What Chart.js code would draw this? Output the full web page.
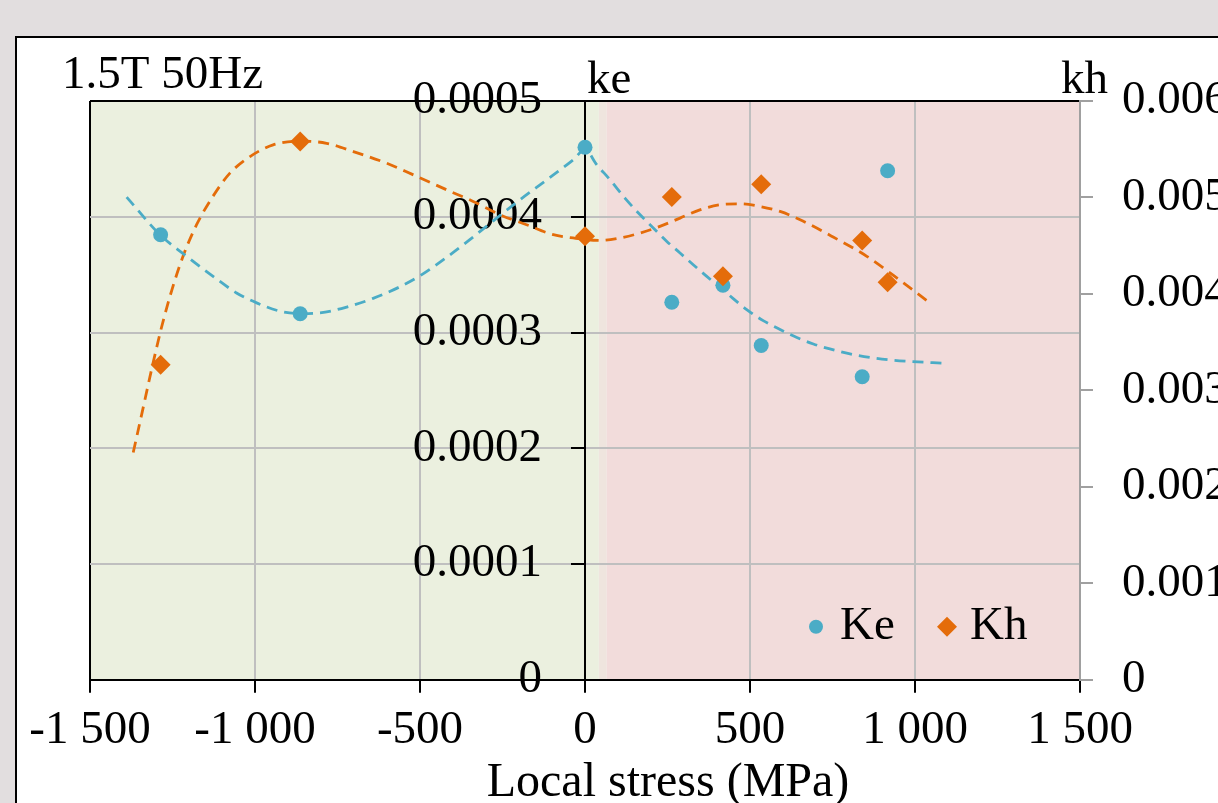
<!DOCTYPE html>
<html><head><meta charset="utf-8">
<script src="https://cdn.jsdelivr.net/npm/chart.js@4.4.0/dist/chart.umd.min.js"></script>
<style>
html,body{margin:0;padding:0;width:1218px;height:803px;overflow:hidden;background:#e2dedf;}
#panel{position:absolute;left:15px;top:36px;width:1400px;height:900px;border:2px solid #000;background:#fff;}
#c{position:absolute;left:0;top:0;}
</style></head>
<body><div id="panel"></div><canvas id="c" width="1246" height="812"></canvas>
<script>
// ---- data ----
const stressX  = [-1286, -863, 0, 263, 418, 534, 840, 917];
const keValues = [0.0003845, 0.0003162, 0.0004601, 0.0003261, 0.0003408, 0.0002888, 0.0002618, 0.0004397];
const khValues = [0.003266, 0.005580, 0.004597, 0.005004, 0.004183, 0.005138, 0.004555, 0.004121];

const keTrendX = [-1389, -1288, -1207, -1127, -1056, -995, -924, -864, -803, -722, -642, -561, -500, -419, -349, -278, -197, -116, -36, 0, 36, 76, 121, 167, 207, 248, 288, 328, 369, 429, 490, 540, 591, 642, 692, 742, 803, 864, 924, 985, 1085];
const keTrendY = [0.0004170, 0.0003845, 0.0003658, 0.0003485, 0.0003342, 0.0003256, 0.0003184, 0.0003164, 0.0003170, 0.0003220, 0.0003295, 0.0003395, 0.0003490, 0.0003650, 0.0003802, 0.0003965, 0.0004147, 0.0004319, 0.0004491, 0.0004580, 0.0004448, 0.0004319, 0.0004161, 0.0004017, 0.0003903, 0.0003787, 0.0003687, 0.0003586, 0.0003485, 0.0003342, 0.0003198, 0.0003103, 0.0003026, 0.0002957, 0.0002901, 0.0002858, 0.0002815, 0.0002784, 0.0002763, 0.0002750, 0.0002735];

const khTrendX = [-1369, -1343, -1313, -1283, -1252, -1217, -1177, -1126, -1076, -1015, -945, -864, -783, -702, -601, -520, -419, -339, -258, -177, -96, -36, 45, 106, 167, 227, 288, 348, 409, 470, 530, 591, 652, 752, 854, 965, 1036];
const khTrendY = [0.002356, 0.002757, 0.003222, 0.003657, 0.004040, 0.004400, 0.004718, 0.005019, 0.005252, 0.005424, 0.005545, 0.005583, 0.005562, 0.005476, 0.005355, 0.005234, 0.005079, 0.004959, 0.004821, 0.004717, 0.004614, 0.004580, 0.004555, 0.004580, 0.004631, 0.004700, 0.004786, 0.004872, 0.004924, 0.004934, 0.004907, 0.004855, 0.004769, 0.004590, 0.004390, 0.004114, 0.003931];

const xTickLabels  = ['-1 500', '-1 000', '-500', '0', '500', '1 000', '1 500'];
const keTickLabels = ['0', '0.0001', '0.0002', '0.0003', '0.0004', '0.0005'];
const khTickLabels = ['0', '0.001', '0.002', '0.003', '0.004', '0.005', '0.006'];
const seriesNames  = ['Ke', 'Kh'];
const chartTitle   = '1.5T 50Hz';
const xTitle       = 'Local stress (MPa)';
const keAxisTitle  = 'ke';
const khAxisTitle  = 'kh';
const regionBounds = [42, 66]; // end of compression zone, start of tension zone (MPa)

// ---- styles ----
const FONT = "'Liberation Serif', 'Times New Roman', serif";
const FS = 47;
const BLUE = '#4bacc6', ORANGE = '#e46c0a';
const GRID = '#bfbfbf', RAXIS = '#a0a0a0';

const backgroundPlugin = {
  id: 'zones',
  beforeDraw(chart) {
    const {ctx, chartArea: a, scales: {x}} = chart;
    const b0 = x.getPixelForValue(regionBounds[0]);
    const b1 = x.getPixelForValue(regionBounds[1]);
    ctx.save();
    ctx.fillStyle = '#ebf0df'; ctx.fillRect(a.left, a.top, b0 - a.left, a.bottom - a.top);
    ctx.fillStyle = '#efe5de'; ctx.fillRect(b0, a.top, b1 - b0, a.bottom - a.top);
    ctx.fillStyle = '#f2dcdb'; ctx.fillRect(b1, a.top, a.right - b1, a.bottom - a.top);
    ctx.restore();
  }
};

// ke axis sits at x = 0; its labels are set off to the left of its tick marks
const keLabelPlugin = {
  id: 'keLabels',
  beforeDatasetsDraw(chart) {
    const {ctx, scales: {x, y}} = chart;
    const px = x.getPixelForValue(0) - 13 - 30;
    ctx.save();
    ctx.font = FS + 'px ' + FONT;
    ctx.fillStyle = '#000';
    ctx.textAlign = 'right';
    ctx.textBaseline = 'middle';
    y.ticks.forEach((t, i) => ctx.fillText(keTickLabels[i], px, y.getPixelForValue(t.value)));
    ctx.restore();
  }
};

const textPlugin = {
  id: 'texts',
  afterDraw(chart) {
    const {ctx, chartArea: a, scales: {x, y1}} = chart;
    ctx.save();
    ctx.font = FS + 'px ' + FONT;
    ctx.fillStyle = '#000';
    ctx.textBaseline = 'alphabetic';
    ctx.textAlign = 'left';
    ctx.fillText(chartTitle, a.left - 28, a.top - 13);
    ctx.fillText(keAxisTitle, x.getPixelForValue(0) + 2, a.top - 8);
    ctx.textAlign = 'right';
    ctx.fillText(khAxisTitle, y1.left + 28, a.top - 8);
    // legend
    const ly = a.bottom - 53;
    const cx = a.right - 264, dx = a.right - 133;
    ctx.fillStyle = BLUE;
    ctx.beginPath(); ctx.arc(cx, ly, 7, 0, Math.PI * 2); ctx.fill();
    ctx.fillStyle = ORANGE;
    ctx.beginPath(); ctx.moveTo(dx, ly - 10); ctx.lineTo(dx + 10, ly); ctx.lineTo(dx, ly + 10); ctx.lineTo(dx - 10, ly); ctx.closePath(); ctx.fill();
    ctx.fillStyle = '#000';
    ctx.textAlign = 'left';
    ctx.textBaseline = 'middle';
    ctx.fillText(seriesNames[0], cx + 24, ly);
    ctx.fillText(seriesNames[1], dx + 23, ly);
    ctx.restore();
  }
};

const pts = (xs, ys) => xs.map((v, i) => ({x: v, y: ys[i]}));

new Chart(document.getElementById('c'), {
  type: 'scatter',
  data: {
    datasets: [
      {label: seriesNames[1], data: pts(stressX, khValues), yAxisID: 'y1', pointStyle: 'rectRot', pointRadius: 10, backgroundColor: ORANGE, borderColor: ORANGE, borderWidth: 0},
      {label: seriesNames[0], data: pts(stressX, keValues), yAxisID: 'y', pointStyle: 'circle', pointRadius: 7.5, backgroundColor: BLUE, borderColor: BLUE, borderWidth: 0},
      {label: 'Ke trend', data: pts(keTrendX, keTrendY), yAxisID: 'y', showLine: true, pointRadius: 0, borderColor: BLUE, borderWidth: 2.8, borderDash: [11, 7], cubicInterpolationMode: 'monotone', fill: false},
      {label: 'Kh trend', data: pts(khTrendX, khTrendY), yAxisID: 'y1', showLine: true, pointRadius: 0, borderColor: ORANGE, borderWidth: 2.8, borderDash: [11, 7], cubicInterpolationMode: 'monotone', fill: false}
    ]
  },
  options: {
    responsive: false,
    animation: false,
    events: [],
    layout: {padding: {left: 90, top: 101, right: 0, bottom: 0}},
    plugins: {
      legend: {display: false},
      tooltip: {enabled: false},
      title: {display: true, position: 'bottom', text: xTitle, color: '#000', font: {family: FONT, size: 48, weight: 'normal'}, padding: 0}
    },
    scales: {
      x: {
        type: 'linear', position: 'bottom', min: -1500, max: 1500,
        afterFit: s => { s.height = 74.6; },
        ticks: {stepSize: 500, callback: (v, i) => xTickLabels[i], color: '#000', font: {family: FONT, size: FS}, padding: 10, maxRotation: 0, autoSkip: false},
        grid: {color: c => c.index === 0 ? '#000' : GRID, lineWidth: 2, tickColor: '#000', tickLength: 13},
        border: {color: '#000', width: 2}
      },
      y: {
        type: 'linear', position: {x: 0}, min: 0, max: 0.0005,
        ticks: {display: false, stepSize: 0.0001},
        grid: {color: c => c.index === 5 ? '#000' : GRID, lineWidth: 2, tickColor: '#000', tickLength: 13},
        border: {color: '#000', width: 2}
      },
      y1: {
        type: 'linear', position: 'right', min: 0, max: 0.006,
        afterFit: s => { s.width = 166; },
        ticks: {stepSize: 0.001, callback: (v, i) => khTickLabels[i], color: '#000', font: {family: FONT, size: FS}, padding: 29},
        grid: {drawOnChartArea: false, tickColor: RAXIS, tickLength: 13, lineWidth: 2},
        border: {color: RAXIS, width: 2}
      }
    }
  },
  plugins: [backgroundPlugin, keLabelPlugin, textPlugin]
});
</script>
</body></html>
